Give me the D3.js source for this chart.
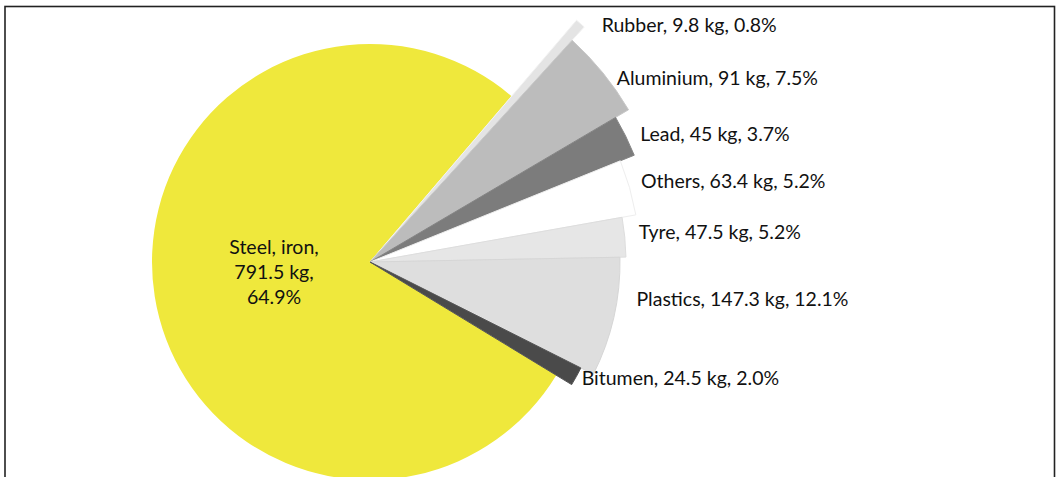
<!DOCTYPE html>
<html>
<head>
<meta charset="utf-8">
<script src="https://cdn.jsdelivr.net/npm/d3@7"></script>
<style>
  body { margin: 0; background: #fff; }
  text { font-family: Lato, "Open Sans", sans-serif; fill: #111; }
</style>
</head>
<body>
<svg id="chart" width="1058" height="477"></svg>
<script>
// end-of-life vehicle composition, clockwise from the steel slice
var materials = ["Steel, iron", "Rubber", "Aluminium", "Lead", "Others", "Tyre", "Plastics", "Bitumen"];
var weights   = [791.5, 9.8, 91, 45, 63.4, 47.5, 147.3, 24.5];
var shares    = ["64.9%", "0.8%", "7.5%", "3.7%", "5.2%", "5.2%", "12.1%", "2.0%"];

// drawing style, one entry per slice
var fills   = ["#efe83c", "#e4e4e4", "#bcbcbc", "#7c7c7c", "#ffffff", "#e6e6e6", "#dedede", "#4a4a4a"];
var strokes = ["none", "#f2f2f2", "#c8c8c8", "#858585", "#eeeeee", "#dddddd", "#d6d6d6", "#555555"];
var radii   = [218, 318, 300, 285, 270, 256, 250, 236];
var labelShift = [[0, 0], [12, 2], [3, 6], [2, -1], [-2, -5], [0, -4], [9, -17], [-7, 3]];

var svg = d3.select("#chart");
var cx = 370, cy = 262;
var deg = Math.PI / 180;

svg.append("rect")
  .attr("x", 5).attr("y", 6.5)
  .attr("width", 1049.5).attr("height", 520)
  .attr("fill", "none")
  .attr("stroke", "#222")
  .attr("stroke-width", 1.6);

// steel is squeezed into its own sweep, the rest fan out on the right
var total = d3.sum(weights);
var angle = d3.scaleLinear()
  .domain([0, weights[0], total])
  .range([121.3 * deg, 400.5 * deg, 481.3 * deg]);

var ends = d3.cumsum(weights);
var slices = weights.map(function(w, i) {
  return {
    i: i,
    startAngle: angle(ends[i] - w),
    endAngle: angle(ends[i]),
    r: radii[i]
  };
});

var arc = d3.arc()
  .innerRadius(0)
  .outerRadius(function(d) { return d.r; });

var g = svg.append("g").attr("transform", "translate(" + cx + "," + cy + ")");

g.selectAll("path")
  .data(slices)
  .enter()
  .append("path")
  .attr("d", arc)
  .attr("fill", function(d) { return fills[d.i]; })
  .attr("stroke", function(d) { return strokes[d.i]; })
  .attr("stroke-width", 1)
  .attr("stroke-linejoin", "round");

// steel label sits inside the yellow slice
var steel = g.append("text")
  .attr("text-anchor", "middle")
  .style("font-size", "19.5px");
[materials[0] + ",", weights[0] + " kg,", shares[0]].forEach(function(t, k) {
  steel.append("tspan").attr("x", -96).attr("y", -8 + k * 25).text(t);
});

g.selectAll("text.side")
  .data(slices.slice(1))
  .enter()
  .append("text")
  .attr("class", "side")
  .style("font-size", "19.5px")
  .attr("x", function(d) {
    var mid = (d.startAngle + d.endAngle) / 2;
    return (d.r + 14) * Math.sin(mid) + labelShift[d.i][0];
  })
  .attr("y", function(d) {
    var mid = (d.startAngle + d.endAngle) / 2;
    return -d.r * Math.cos(mid) + 6 + labelShift[d.i][1];
  })
  .text(function(d) { return materials[d.i] + ", " + weights[d.i] + " kg, " + shares[d.i]; });
</script>
</body>
</html>
